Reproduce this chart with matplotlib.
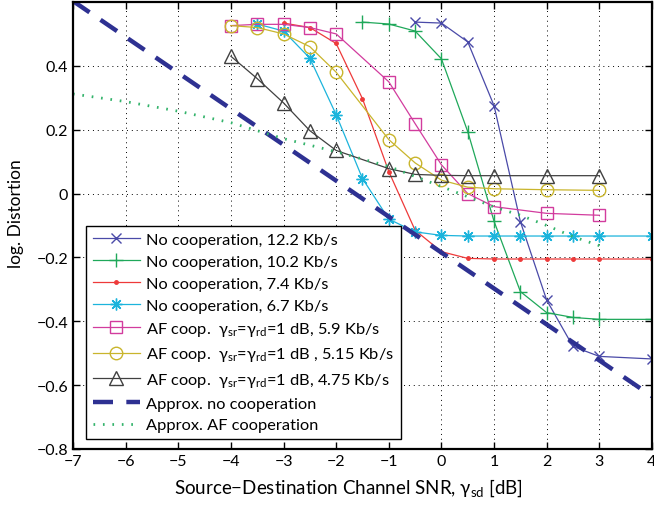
import numpy as np
import matplotlib
matplotlib.use('Agg')
import matplotlib.pyplot as plt

plt.rcParams['font.family'] = ['Lato', 'DejaVu Sans']
plt.rcParams['mathtext.fontset'] = 'custom'
plt.rcParams['mathtext.rm'] = 'Lato'
plt.rcParams['mathtext.it'] = 'Lato:italic'

# values
snr_12k2 = [-0.5, 0, 0.5, 1, 1.5, 2, 2.5, 3, 4]
dist_12k2 = [0.537, 0.534, 0.475, 0.275, -0.088, -0.334, -0.479, -0.51, -0.518]

snr_10k2 = [-1.5, -1, -0.5, 0, 0.5, 1, 1.5, 2, 2.5, 3, 4]
dist_10k2 = [0.537, 0.531, 0.509, 0.422, 0.194, -0.087, -0.307, -0.373, -0.388, -0.394, -0.394]

snr_7k4 = [-3, -2.5, -2, -1.5, -1, -0.5, 0, 0.5, 1, 1.5, 2, 2.5, 3, 4]
dist_7k4 = [0.534, 0.52, 0.47, 0.297, 0.069, -0.115, -0.182, -0.203, -0.205, -0.205,
            -0.205, -0.205, -0.205, -0.205]

snr_6k7 = [-3.5, -3, -2.5, -2, -1.5, -1, -0.5, 0, 0.5, 1, 1.5, 2, 2.5, 3, 4]
dist_6k7 = [0.531, 0.509, 0.424, 0.247, 0.047, -0.08, -0.12, -0.131, -0.133, -0.133,
            -0.133, -0.133, -0.133, -0.133, -0.133]

snr_af = [-4, -3.5, -3, -2.5, -2, -1, -0.5, 0, 0.5, 1, 2, 3]
dist_5k9 = [0.526, 0.53, 0.53, 0.52, 0.5, 0.35, 0.219, 0.09, 0.0, -0.041, -0.062, -0.068]
dist_5k15 = [0.526, 0.52, 0.5, 0.46, 0.38, 0.169, 0.096, 0.042, 0.02, 0.015, 0.012, 0.01]
dist_4k75 = [0.43, 0.36, 0.284, 0.197, 0.135, 0.078, 0.06, 0.057, 0.056, 0.056, 0.056, 0.056]

snr_approx_nc = [-7, 4]
dist_approx_nc = [0.603, -0.635]

snr_approx_af = [-7, -6, -5, -4, -3, -2, -1, 0, 1, 1.5, 2, 2.5, 3]
dist_approx_af = [0.312, 0.288, 0.258, 0.222, 0.172, 0.131, 0.085, 0.022, -0.042,
                  -0.068, -0.1, -0.135, -0.163]

labels = [
    'No cooperation, 12.2 Kb/s',
    'No cooperation, 10.2 Kb/s',
    'No cooperation, 7.4 Kb/s',
    'No cooperation, 6.7 Kb/s',
    r'AF coop.  γ$_{\rm sr}$=γ$_{\rm rd}$=1 dB, 5.9 Kb/s',
    r'AF coop.  γ$_{\rm sr}$=γ$_{\rm rd}$=1 dB , 5.15 Kb/s',
    r'AF coop.  γ$_{\rm sr}$=γ$_{\rm rd}$=1 dB, 4.75 Kb/s',
    'Approx. no cooperation',
    'Approx. AF cooperation',
]

fig = plt.figure(figsize=(6.54, 5.06), dpi=100)
ax = fig.add_axes([0.1116, 0.1107, 0.8853, 0.8834])

lw = 0.9
ax.plot(snr_12k2, dist_12k2, color='#4a4aa8', lw=lw, marker='x', ms=7, mew=1.0, label=labels[0])
ax.plot(snr_10k2, dist_10k2, color='#1fa85a', lw=lw, marker='+', ms=10, mew=1.0, label=labels[1])
ax.plot(snr_7k4, dist_7k4, color='#ee3a3a', lw=lw, marker='.', ms=5, label=labels[2])
ax.plot(snr_6k7, dist_6k7, color='#1cb4dc', lw=lw, marker=(8, 2, 0), ms=8.5, mew=1.0, label=labels[3])
ax.plot(snr_af, dist_5k9, color='#d23c9e', lw=lw, marker='s', ms=8, mfc='none', mew=1.0, label=labels[4])
ax.plot(snr_af, dist_5k15, color='#c9b52c', lw=lw, marker='o', ms=9, mfc='none', mew=1.0, label=labels[5])
ax.plot(snr_af, dist_4k75, color='#404040', lw=lw, marker='^', ms=10, mfc='none', mew=1.0, label=labels[6])
ax.plot(snr_approx_nc, dist_approx_nc, color='#2e3192', lw=3.2, ls=(0, (4.5, 3)), label=labels[7])
ax.plot(snr_approx_af, dist_approx_af, color='#33b36b', lw=2.0, ls=(0, (0.6, 2.8)), label=labels[8])

ax.set_xlim(-7, 4)
ax.set_ylim(-0.8, 0.6)
ax.set_xticks(np.arange(-7, 5, 1))
ax.set_yticks([-0.8, -0.6, -0.4, -0.2, 0, 0.2, 0.4])
ax.set_yticklabels(['−0.8', '−0.6', '−0.4', '−0.2', '0', '0.2', '0.4'])
ax.grid(True, color='black', ls=(0, (1, 4)), lw=0.7)
ax.tick_params(direction='in', length=5, width=1, top=True, right=True, labelsize=11.5)
for s in ax.spines.values():
    s.set_linewidth(1.6)

ax.set_xlabel(r'Source−Destination Channel SNR, γ$_{\rm sd}$ [dB]', fontsize=13.5)
ax.xaxis.set_label_coords(0.475, -0.062)
ax.set_ylabel('log. Distortion', fontsize=12.5)
ax.yaxis.set_label_coords(-0.0846, 0.528)

leg = ax.legend(loc='lower left', bbox_to_anchor=(0.0225, 0.0224), borderaxespad=0,
                fontsize=11.8, fancybox=False, framealpha=1, edgecolor='black',
                handlelength=2.9, handletextpad=0.36, labelspacing=0.45, borderpad=0.4)
leg.get_frame().set_linewidth(1.0)

fig.savefig('out.png', dpi=100)
